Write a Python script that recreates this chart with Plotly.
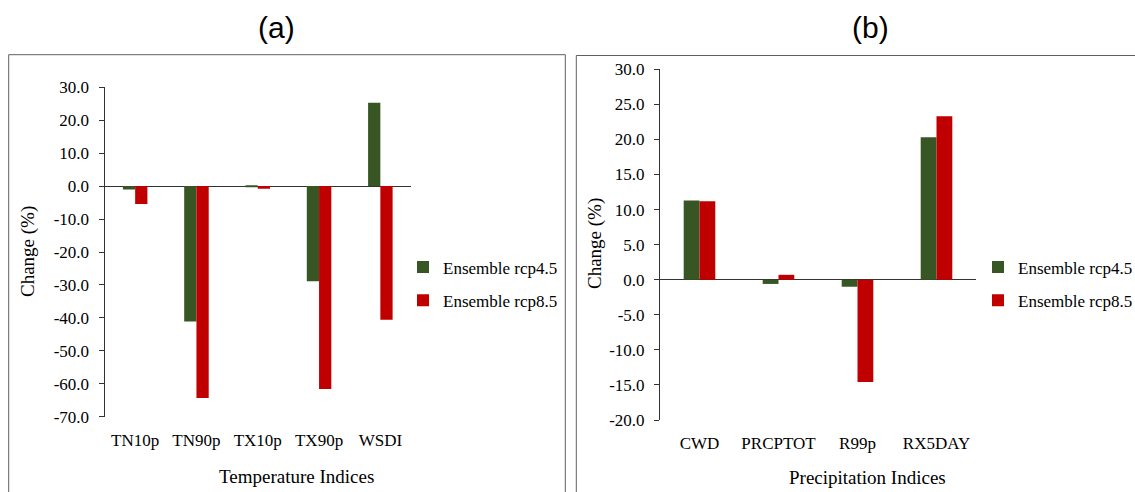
import plotly.graph_objects as go

W, H = 1135, 492

# ---------------- data ----------------
temp_indices = ["TN10p", "TN90p", "TX10p", "TX90p", "WSDI"]
temp_rcp45 = [-1.0, -41.1, -0.3, -28.9, 25.3]
temp_rcp85 = [-5.4, -64.3, -0.8, -61.6, -40.6]

prec_indices = ["CWD", "PRCPTOT", "R99p", "RX5DAY"]
prec_rcp45 = [11.3, -0.6, -1.0, 20.3]
prec_rcp85 = [11.2, 0.7, -14.6, 23.3]

temp_ticks = [30, 20, 10, 0, -10, -20, -30, -40, -50, -60, -70]
prec_ticks = [30, 25, 20, 15, 10, 5, 0, -5, -10, -15, -20]

series_names = ["Ensemble rcp4.5", "Ensemble rcp8.5"]
GREEN = "#375623"
RED = "#C00000"

SERIF = "Liberation Serif"
SANS = "Liberation Sans"


def px(x):
    return x / W


def py(y):
    return 1 - y / H


fig = go.Figure()

fig.add_trace(go.Bar(x=temp_indices, y=temp_rcp45, name=series_names[0],
                     marker=dict(color=GREEN, line=dict(width=0)),
                     xaxis="x", yaxis="y", legend="legend", legendgroup="a1"))
fig.add_trace(go.Bar(x=temp_indices, y=temp_rcp85, name=series_names[1],
                     marker=dict(color=RED, line=dict(width=0)),
                     xaxis="x", yaxis="y", legend="legend", legendgroup="a2"))
fig.add_trace(go.Bar(x=prec_indices, y=prec_rcp45, name=series_names[0],
                     marker=dict(color=GREEN, line=dict(width=0)),
                     xaxis="x2", yaxis="y2", legend="legend2", legendgroup="b1"))
fig.add_trace(go.Bar(x=prec_indices, y=prec_rcp85, name=series_names[1],
                     marker=dict(color=RED, line=dict(width=0)),
                     xaxis="x2", yaxis="y2", legend="legend2", legendgroup="b2"))

tick_font = dict(family=SERIF, size=17, color="#000000")
axis_color = "#333333"

xcommon = dict(showgrid=False, showline=False, zeroline=False, ticks="",
               tickfont=tick_font, ticklabelstandoff=11, fixedrange=True,
               automargin=False)
ycommon = dict(showgrid=False, showline=True, linecolor=axis_color, linewidth=1,
               ticks="outside", ticklen=5, tickcolor=axis_color, tickwidth=1,
               zeroline=True, zerolinecolor=axis_color, zerolinewidth=1,
               tickfont=tick_font, ticklabelstandoff=6, fixedrange=True,
               automargin=False)

fig.update_layout(
    width=W, height=H,
    margin=dict(l=0, r=0, t=0, b=0, pad=0, autoexpand=False),
    paper_bgcolor="white", plot_bgcolor="white",
    barmode="group", bargap=0.6, bargroupgap=0.0,
    xaxis=dict(domain=[px(104.5), px(411)], anchor="y", **xcommon),
    yaxis=dict(domain=[py(416.7), py(87.3)], anchor="x", range=[-70, 30],
               tickvals=temp_ticks, ticktext=[f"{v:.1f}" for v in temp_ticks],
               **ycommon),
    xaxis2=dict(domain=[px(660), px(976)], anchor="y2", **xcommon),
    yaxis2=dict(domain=[py(420), py(69.3)], anchor="x2", range=[-20, 30],
                tickvals=prec_ticks, ticktext=[f"{v:.1f}" for v in prec_ticks],
                **ycommon),
    legend=dict(x=px(403), y=py(284), xanchor="left", yanchor="middle",
                font=dict(family=SERIF, size=17, color="#000000"),
                bgcolor="rgba(0,0,0,0)", traceorder="grouped", tracegroupgap=8,
                itemwidth=30, itemclick=False, itemdoubleclick=False),
    legend2=dict(x=px(978), y=py(284), xanchor="left", yanchor="middle",
                 font=dict(family=SERIF, size=17, color="#000000"),
                 bgcolor="rgba(0,0,0,0)", traceorder="grouped", tracegroupgap=8,
                 itemwidth=30, itemclick=False, itemdoubleclick=False),
    showlegend=True,
)

# panel borders
fig.add_shape(type="rect", xref="paper", yref="paper",
              x0=px(8.7), x1=px(565.3), y0=py(500), y1=py(54.7),
              line=dict(color="#606060", width=1), fillcolor="rgba(0,0,0,0)", layer="below")
fig.add_shape(type="rect", xref="paper", yref="paper",
              x0=px(576.3), x1=px(1145), y0=py(500), y1=py(55.5),
              line=dict(color="#606060", width=1), fillcolor="rgba(0,0,0,0)", layer="below")

ann = []
# panel titles
ann.append(dict(text="(a)", x=px(276), y=py(27), xref="paper", yref="paper",
                showarrow=False, xanchor="center", yanchor="middle",
                font=dict(family=SANS, size=30, color="#000000")))
ann.append(dict(text="(b)", x=px(870), y=py(27), xref="paper", yref="paper",
                showarrow=False, xanchor="center", yanchor="middle",
                font=dict(family=SANS, size=30, color="#000000")))
# axis titles
title_font = dict(family=SERIF, size=19, color="#000000")
ann.append(dict(text="Change (%)", x=px(28), y=py(252), xref="paper", yref="paper",
                showarrow=False, textangle=-90, xanchor="center", yanchor="middle",
                font=title_font))
ann.append(dict(text="Change (%)", x=px(595), y=py(244), xref="paper", yref="paper",
                showarrow=False, textangle=-90, xanchor="center", yanchor="middle",
                font=title_font))
ann.append(dict(text="Temperature Indices", x=px(296), y=py(476), xref="paper", yref="paper",
                showarrow=False, xanchor="center", yanchor="middle", font=title_font))
ann.append(dict(text="Precipitation Indices", x=px(867), y=py(477), xref="paper", yref="paper",
                showarrow=False, xanchor="center", yanchor="middle", font=title_font))
fig.update_layout(annotations=ann)

post = ("document.documentElement.style.margin='0';"
        "document.documentElement.style.padding='0';"
        "document.documentElement.style.overflow='hidden';"
        "document.body.style.margin='0';"
        "document.body.style.padding='0';"
        "document.body.style.overflow='hidden';"
        "var gd=document.getElementById('{plot_id}');"
        "gd.style.position='fixed';gd.style.top='0px';gd.style.left='0px';")

fig.write_html("out.html", post_script=post,
               config={"displayModeBar": False})
